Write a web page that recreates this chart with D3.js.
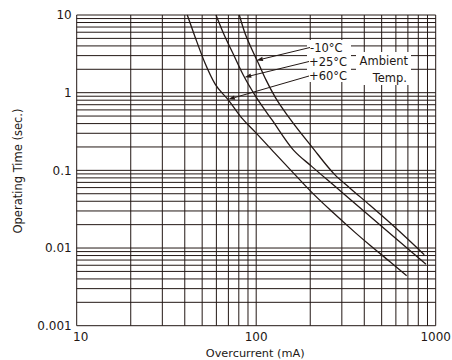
<!DOCTYPE html>
<html>
<head>
<meta charset="utf-8">
<script src="https://cdn.jsdelivr.net/npm/d3@7"></script>
<style>
  html, body { margin: 0; padding: 0; background: #fff; }
  svg { display: block; }
  text { font-family: "DejaVu Sans", sans-serif; fill: #231815; }
</style>
</head>
<body>
<svg id="chart" width="452" height="360"></svg>
<script>
// ---- data (current in mA, operating time in s) ----
const seriesNames = ["-10°C", "+25°C", "+60°C"];
const curveMinus10 = [
  [80.5, 10], [86.6, 5.82], [94.4, 3.65], [102.7, 2.41], [113.4, 1.46],
  [127.3, 0.882], [154.3, 0.46], [203.8, 0.2023], [274.8, 0.0875],
  [333.2, 0.059], [430.5, 0.0355], [556.4, 0.0211], [864, 0.0082]
];
const curvePlus25 = [
  [59.7, 10], [65.6, 5.87], [74.5, 3.15], [84.7, 1.69], [100.6, 0.856],
  [122.5, 0.446], [160.9, 0.1835], [203.8, 0.1125], [274.8, 0.0622],
  [412.6, 0.0278], [556.4, 0.0154], [883, 0.0062]
];
const curvePlus60 = [
  [41.3, 10], [45.6, 5.26], [51.9, 2.39], [58.95, 1.296], [69.9, 0.807],
  [83.0, 0.473], [98.5, 0.313], [127.3, 0.1655], [160.9, 0.0929],
  [208.0, 0.0498], [268.9, 0.0284], [355.1, 0.0159], [430.5, 0.01085],
  [556.4, 0.00666], [689, 0.0044]
];
// arrow tip points on each curve (current, time)
const arrowTips = [[100.3, 2.6], [86.3, 1.58], [70, 0.82]];
const xTickValues = [10, 100, 1000];
const xTickLabels = ["10", "100", "1000"];
const yTickValues = [0.001, 0.01, 0.1, 1, 10];
const yTickLabels = ["0.001", "0.01", "0.1", "1", "10"];
const xTitle = "Overcurrent (mA)";
const yTitle = "Operating Time (sec.)";
const legendTitle = ["Ambient", "Temp."];

// ---- layout ----
const ink = "#231815";
const L = 76.7, R = 435.7, T = 15, B = 325.7;
const svg = d3.select("#chart");
const x = d3.scaleLog().domain([10, 1000]).range([L, R]);
const y = d3.scaleLog().domain([0.001, 10]).range([B, T]);

// grid values
const xGrid = [];
[10, 100].forEach(d => { for (let k = 1; k < 10; k++) xGrid.push(d * k); });
xGrid.push(1000);
const yGrid = [];
[0.001, 0.01, 0.1, 1].forEach(d => { for (let k = 1; k < 10; k++) yGrid.push(d * k); });
yGrid.push(10);

const g = svg.append("g");
g.selectAll("line.vx").data(xGrid).join("line")
  .attr("x1", d => x(d)).attr("x2", d => x(d))
  .attr("y1", T).attr("y2", B)
  .attr("stroke", ink).attr("stroke-width", 1);
g.selectAll("line.hy").data(yGrid).join("line")
  .attr("y1", d => y(d)).attr("y2", d => y(d))
  .attr("x1", L).attr("x2", R)
  .attr("stroke", ink).attr("stroke-width", 1);

// white boxes behind annotations
svg.append("rect").attr("x", 307).attr("y", 40).attr("width", 44).attr("height", 42).attr("fill", "#fff");
svg.append("rect").attr("x", 356).attr("y", 52).attr("width", 55).attr("height", 33).attr("fill", "#fff");

// curves
const line = d3.line().x(d => x(d[0])).y(d => y(d[1])).curve(d3.curveMonotoneX);
svg.selectAll("path.curve").data([curveMinus10, curvePlus25, curvePlus60]).join("path")
  .attr("class", "curve")
  .attr("d", line)
  .attr("fill", "none").attr("stroke", ink).attr("stroke-width", 1.3);

// axes tick labels
svg.selectAll("text.xt").data(xTickValues).join("text")
  .attr("x", (d, i) => x(d) + (i === 0 ? 4 : 0))
  .attr("y", B + 15)
  .attr("text-anchor", "middle")
  .attr("font-size", 12)
  .text((d, i) => xTickLabels[i]);
svg.selectAll("text.yt").data(yTickValues).join("text")
  .attr("x", L - 5)
  .attr("y", d => y(d))
  .attr("dy", "0.36em")
  .attr("text-anchor", "end")
  .attr("font-size", 12)
  .text((d, i) => yTickLabels[i]);

// axis titles
svg.append("text").attr("x", (L + R) / 2 - 1).attr("y", 357)
  .attr("text-anchor", "middle").attr("font-size", 11.3).text(xTitle);
svg.append("text")
  .attr("transform", "translate(22,171) rotate(-90)")
  .attr("text-anchor", "middle").attr("font-size", 11.5).text(yTitle);

// leader lines with arrowheads
const labelStarts = [[310, 47.5], [309, 61.5], [309, 76]];
const labelY = [47.5, 61.5, 75.5];
arrowTips.forEach((tp, i) => {
  const tx = x(tp[0]), ty = y(tp[1]);
  const [sx, sy] = labelStarts[i];
  const ang = Math.atan2(sy - ty, sx - tx);
  const len = 6.5, hw = 2.2;
  const bx = tx + Math.cos(ang) * len, by = ty + Math.sin(ang) * len;
  svg.append("line").attr("x1", sx).attr("y1", sy).attr("x2", bx).attr("y2", by)
    .attr("stroke", ink).attr("stroke-width", 1);
  const px = -Math.sin(ang) * hw, py = Math.cos(ang) * hw;
  svg.append("path")
    .attr("d", `M${tx},${ty}L${bx + px},${by + py}L${bx - px},${by - py}Z`)
    .attr("fill", ink);
  svg.append("text").attr("x", sx).attr("y", labelY[i]).attr("dy", "0.36em")
    .attr("font-size", 11.5).text(seriesNames[i]);
});
svg.append("text").attr("x", 408).attr("y", 61).attr("dy", "0.36em")
  .attr("text-anchor", "end").attr("font-size", 11.5).text(legendTitle[0]);
svg.append("text").attr("x", 407).attr("y", 78).attr("dy", "0.36em")
  .attr("text-anchor", "end").attr("font-size", 11.5).text(legendTitle[1]);
</script>
</body>
</html>
